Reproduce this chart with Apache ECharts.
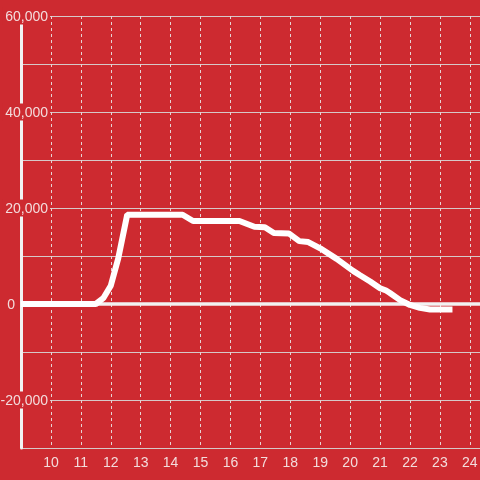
<!DOCTYPE html>
<html>
<head>
<meta charset="utf-8">
<script src="https://cdn.jsdelivr.net/npm/echarts@6/dist/echarts.min.js"></script>
<style>
  html, body { margin: 0; padding: 0; background: #cd2a30; }
  #main { width: 480px; height: 480px; }
</style>
</head>
<body>
<div id="main"></div>
<script>
// hour of day and value
const hours = [9, 11.5, 11.75, 12, 12.25, 12.55, 14.4, 14.75, 16.3, 16.8, 17.15, 17.45, 17.95, 18.3, 18.6,
  19, 19.55, 20.1, 20.33, 20.67, 21, 21.2, 21.33, 21.67, 22, 22.33, 22.67, 23.42];
const values = [0, 0, 1200, 3800, 9500, 18600, 18600, 17300, 17300, 16100, 16000, 14800, 14700, 13100, 12900,
  11600, 9400, 6900, 6000, 4700, 3300, 2800, 2300, 800, -200, -800, -1150, -1150];
const yLabels = [-20000, 0, 20000, 40000, 60000];

const chart = echarts.init(document.getElementById('main'), null, { renderer: 'canvas' });

const labelColor = '#f3dcdc';

const option = {
  backgroundColor: '#cd2a30',
  animation: false,
  grid: {
    left: 21,
    right: 0,
    top: 16,
    bottom: 32,
    outerBoundsMode: 'none'
  },
  xAxis: {
    type: 'value',
    min: 9,
    max: 24.34,
    interval: 1,
    position: 'bottom',
    axisLine: { show: false, onZero: false },
    axisTick: { show: false },
    axisLabel: {
      color: labelColor,
      fontSize: 14,
      fontFamily: 'Liberation Sans, Arial, sans-serif',
      margin: 8,
      showMaxLabel: false,
      formatter: function (v) {
        return (Number.isInteger(v) && v >= 10) ? String(v) : '';
      }
    },
    splitLine: {
      show: true,
      lineStyle: { color: '#e6d4d4', type: [3, 3], width: 1 }
    }
  },
  yAxis: {
    type: 'value',
    min: -30000,
    max: 60000,
    interval: 10000,
    axisLine: { show: true, lineStyle: { color: '#f2f2f2', width: 3 } },
    axisTick: { show: false },
    axisLabel: {
      margin: -29,
      color: labelColor,
      fontSize: 14,
      fontFamily: 'Liberation Sans, Arial, sans-serif',
      formatter: function (v) {
        if (yLabels.indexOf(v) < 0) return '';
        if (v === 0) return '{z|0}';
        return '{a|' + v.toLocaleString('en-US') + '}';
      },
      rich: {
        a: {
          color: labelColor,
          fontSize: 14,
          fontFamily: 'Liberation Sans, Arial, sans-serif',
          backgroundColor: '#cd2a30',
          padding: [3, 2, 0, 3]
        },
        z: {
          color: labelColor,
          fontSize: 14,
          fontFamily: 'Liberation Sans, Arial, sans-serif',
          padding: [3, 35, 0, 0]
        }
      }
    },
    splitLine: {
      show: true,
      lineStyle: { color: '#d6c8c8', width: 1 }
    }
  },
  series: [{
    type: 'line',
    data: hours.map((h, i) => [h, values[i]]),
    showSymbol: false,
    symbol: 'none',
    lineStyle: { color: '#ffffff', width: 6 },
    z: 3,
    markLine: {
      silent: true,
      symbol: 'none',
      label: { show: false },
      lineStyle: { color: '#f2f2f2', width: 3.5, type: 'solid' },
      data: [{ yAxis: 0 }],
      z: 2
    }
  }]
};

chart.setOption(option);
</script>
</body>
</html>
